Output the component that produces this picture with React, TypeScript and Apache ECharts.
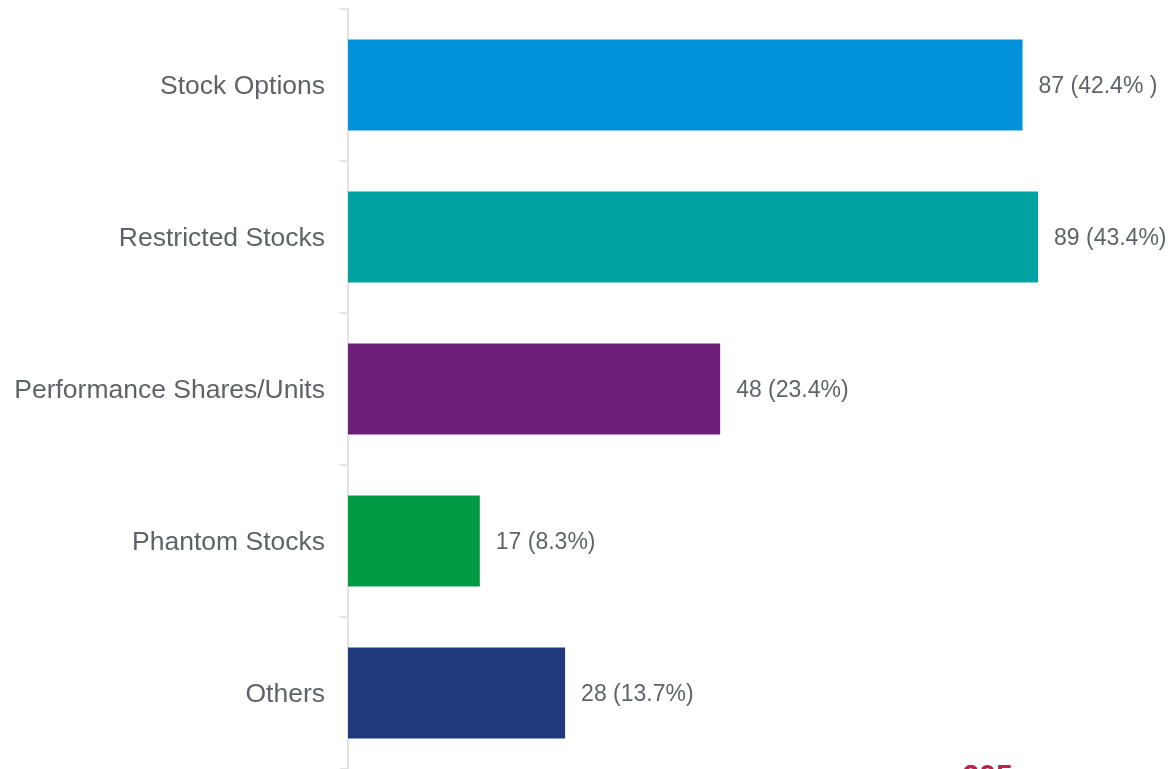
import React, { useEffect, useRef } from "react";
import * as echarts from "echarts";

const categories = ["Stock Options", "Restricted Stocks", "Performance Shares/Units", "Phantom Stocks", "Others"];
const values = [87, 89, 48, 17, 28];
const valueLabels = ["87 (42.4% )", "89 (43.4%)", "48 (23.4%)", "17 (8.3%)", "28 (13.7%)"];
const barColors = ["#0091DA", "#00A3A1", "#6D2077", "#009A44", "#1F3A7C"];
const totalLabel = "n = 205";

export default function App() {
  const ref = useRef<HTMLDivElement>(null);
  useEffect(() => {
    const chart = echarts.init(ref.current!, null, { renderer: "svg" });
    chart.setOption({
      animation: false,
      grid: { left: 348, top: 9, width: 775.3, height: 760 },
      xAxis: { type: "value", min: 0, max: 100, show: false },
      yAxis: {
        type: "category",
        inverse: true,
        data: categories,
        axisLine: { show: true, lineStyle: { color: "#e3e3e3", width: 2 } },
        axisTick: { show: true, length: 8, lineStyle: { color: "#e3e3e3", width: 2 } },
        axisLabel: { color: "#5f6369", fontSize: 26.5, fontFamily: "Liberation Sans, Arial, sans-serif", margin: 23 },
      },
      series: [
        {
          type: "bar",
          data: values.map((v, i) => ({ value: v, itemStyle: { color: barColors[i] } })),
          barCategoryGap: "40%",
          label: {
            show: true,
            position: "right",
            distance: 16,
            color: "#5f6369",
            fontSize: 23,
            fontFamily: "Liberation Sans, Arial, sans-serif",
            formatter: (p: any) => valueLabels[p.dataIndex],
          },
        },
      ],
      graphic: [
        {
          type: "text",
          left: 910,
          top: 759,
          style: {
            text: totalLabel,
            fill: "#BC204B",
            font: "bold 30px Liberation Sans, Arial, sans-serif",
          },
        },
      ],
    });
    return () => chart.dispose();
  }, []);
  return <div ref={ref} style={{ position: "fixed", left: 0, top: 0, width: 1172, height: 769 }} />;
}
